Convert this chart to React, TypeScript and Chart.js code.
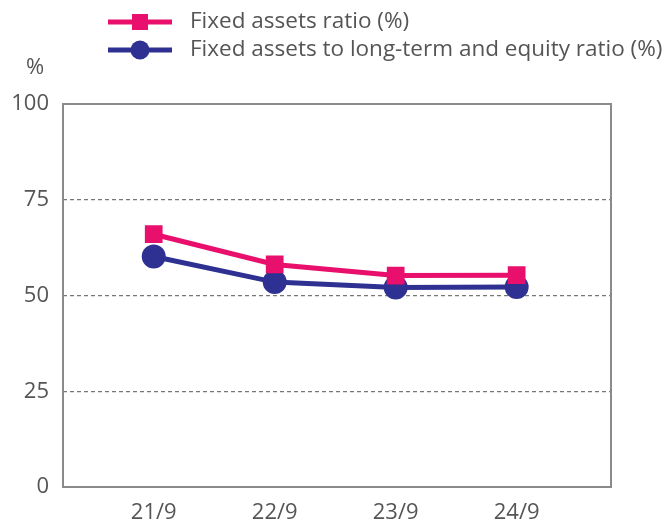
import React, { useEffect, useRef } from "react";
import { Chart, registerables } from "chart.js";

Chart.register(...registerables);

const categories = ["21/9", "22/9", "23/9", "24/9"];
const fixedAssetsRatio = [66.0, 58.1, 55.2, 55.3];
const fixedToLongTermEquity = [60.2, 53.5, 52.1, 52.2];
const yTicks = [0, 25, 50, 75, 100];
const seriesNames = ["Fixed assets ratio (%)", "Fixed assets to long-term and equity ratio (%)"];
const PINK = "#E8106C";
const NAVY = "#2E3192";
const FONT = "'Open Sans', sans-serif";

const framePlugin = {
  id: "frame",
  beforeDatasetsDraw(chart: any) {
    const { ctx, chartArea } = chart;
    ctx.save();
    ctx.strokeStyle = "#8a8a8a";
    ctx.lineWidth = 2;
    ctx.strokeRect(chartArea.left, chartArea.top, chartArea.right - chartArea.left, chartArea.bottom - chartArea.top);
    ctx.restore();
  },
  afterDraw(chart: any) {
    const { ctx } = chart;
    ctx.save();
    ctx.font = `22px ${FONT}`;
    ctx.fillStyle = "#555";
    ctx.textAlign = "center";
    ctx.textBaseline = "middle";
    ctx.fillText("%", 35, 68);
    const rows = [22, 50];
    chart.data.datasets.forEach((ds: any, i: number) => {
      const y = rows[i];
      ctx.strokeStyle = ds.borderColor;
      ctx.lineWidth = 5;
      ctx.beginPath();
      ctx.moveTo(108, y);
      ctx.lineTo(172, y);
      ctx.stroke();
      ctx.fillStyle = ds.borderColor;
      if (ds.pointStyle === "rect") {
        ctx.fillRect(140 - 8, y - 8, 16, 16);
      } else {
        ctx.beginPath();
        ctx.arc(140, y, 9.5, 0, Math.PI * 2);
        ctx.fill();
      }
      ctx.fillStyle = "#555";
      ctx.textAlign = "left";
      ctx.font = `22.5px ${FONT}`;
      ctx.fillText(ds.label, 190, y);
    });
    ctx.restore();
  },
};

export default function App() {
  const ref = useRef<HTMLCanvasElement>(null);
  useEffect(() => {
    const chart = new Chart(ref.current as HTMLCanvasElement, {
      type: "line",
      data: {
        datasets: [
          {
            label: seriesNames[0],
            data: fixedAssetsRatio.map((v, i) => ({ x: i, y: v })),
            borderColor: PINK,
            backgroundColor: PINK,
            borderWidth: 5,
            pointStyle: "rect",
            pointRadius: 9,
            pointHoverRadius: 9,
            tension: 0,
          },
          {
            label: seriesNames[1],
            data: fixedToLongTermEquity.map((v, i) => ({ x: i, y: v })),
            borderColor: NAVY,
            backgroundColor: NAVY,
            borderWidth: 5,
            pointStyle: "circle",
            pointRadius: 9.5,
            pointHoverRadius: 9.5,
            tension: 0,
          },
        ],
      },
      options: {
        responsive: false,
        animation: false,
        layout: { padding: { top: 104, right: 58, left: 0, bottom: 0 } },
        plugins: { legend: { display: false }, tooltip: { enabled: false } },
        scales: {
          x: {
            type: "linear",
            min: -0.75,
            max: 3.78,
            afterBuildTicks: (axis: any) => {
              axis.ticks = categories.map((_, i) => ({ value: i }));
            },
            afterFit: (axis: any) => {
              axis.height = 40;
            },
            grid: { display: false },
            border: { display: false },
            ticks: {
              callback: (v: any) => categories[v as number] ?? "",
              color: "#555",
              font: { family: FONT, size: 22 },
              padding: 5,
              maxRotation: 0,
              autoSkip: false,
            },
          },
          y: {
            min: 0,
            max: 100,
            afterBuildTicks: (axis: any) => {
              axis.ticks = yTicks.map((v) => ({ value: v }));
            },
            afterFit: (axis: any) => {
              axis.width = 63;
            },
            grid: {
              color: (c: any) => (c.tick && (c.tick.value === 0 || c.tick.value === 100) ? "rgba(0,0,0,0)" : "#777"),
              lineWidth: 1.2,
              drawTicks: false,
            },
            border: { display: false, dash: [4, 3] } as any,
            ticks: {
              color: "#555",
              font: { family: FONT, size: 22 },
              padding: 14,
            },
          },
        },
      },
      plugins: [framePlugin],
    } as any);
    return () => chart.destroy();
  }, []);
  return (
    <div style={{ position: "fixed", left: 0, top: 0, width: 669, height: 527, background: "#fff" }}>
      <canvas ref={ref} width={669} height={527} style={{ width: 669, height: 527, display: "block" }} />
    </div>
  );
}
